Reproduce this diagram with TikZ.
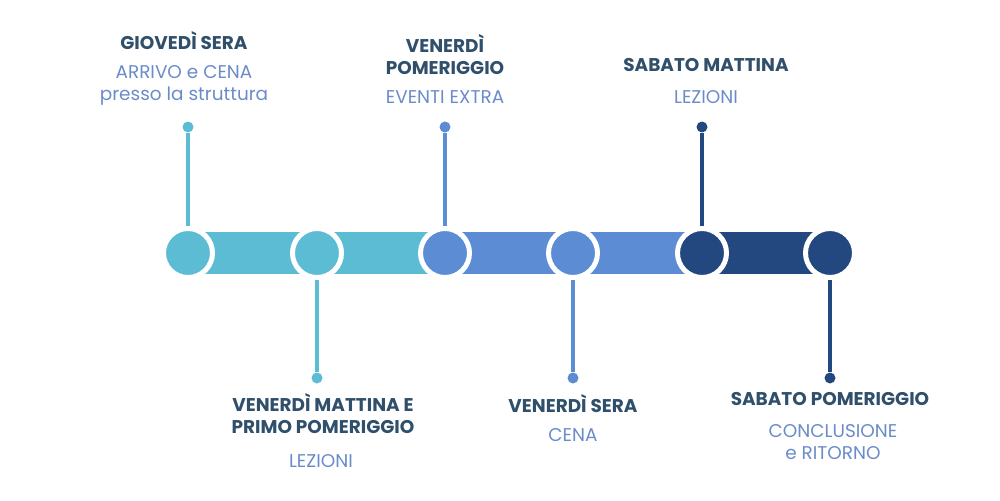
\documentclass[tikz,border=0pt]{standalone}
\usepackage{fontspec}
\setmainfont{Poppins}
\usetikzlibrary{positioning}
\definecolor{cyanstep}{RGB}{91,188,211}
\definecolor{bluestep}{RGB}{91,140,212}
\definecolor{navystep}{RGB}{34,72,127}
\definecolor{titolo}{RGB}{47,79,107}
\definecolor{testo}{RGB}{106,140,200}
\tikzset{
  stop/.style={circle, draw=white, line width=0.1cm, minimum size=0.98cm, inner sep=0pt},
  pin/.style={circle, inner sep=0pt, minimum size=0.22cm},
  title/.style={text=titolo, font=\bfseries\fontsize{10.5}{12.5}\selectfont, align=center},
  sub/.style={text=testo, font=\fontsize{10.5}{12.5}\selectfont, align=center},
}
\begin{document}
\begin{tikzpicture}[x=0.02cm, y=-0.02cm]
    \useasboundingbox (0,0) rectangle (1000,500);

    % bars
    \fill[cyanstep] (188,232) rectangle (445,274);
    \fill[bluestep] (445,232) rectangle (702,274);
    \fill[navystep] (702,232) rectangle (830,274);

    % stems and pins
    \node[pin, fill=cyanstep] (p1) at (188,127) {};
    \node[pin, fill=cyanstep] (p2) at (317,378) {};
    \node[pin, fill=bluestep] (p3) at (445,127) {};
    \node[pin, fill=bluestep] (p4) at (573,378) {};
    \node[pin, fill=navystep] (p5) at (702,127) {};
    \node[pin, fill=navystep] (p6) at (830,378) {};
    \draw[cyanstep, line width=0.08cm] (p1) -- (188,253);
    \draw[cyanstep, line width=0.08cm] (p2) -- (317,253);
    \draw[bluestep, line width=0.08cm] (p3) -- (445,253);
    \draw[bluestep, line width=0.08cm] (p4) -- (573,253);
    \draw[navystep, line width=0.08cm] (p5) -- (702,253);
    \draw[navystep, line width=0.08cm] (p6) -- (830,253);

    % stops
    \node[stop, fill=cyanstep] (s1) at (188,253) {};
    \node[stop, fill=cyanstep] (s2) at (317,253) {};
    \node[stop, fill=bluestep] (s3) at (445,253) {};
    \node[stop, fill=bluestep] (s4) at (573,253) {};
    \node[stop, fill=navystep] (s5) at (702,253) {};
    \node[stop, fill=navystep] (s6) at (830,253) {};

    % labels
    \node[title] (t1) at (184,41) {GIOVEDÌ SERA};
    \node[sub] (d1) at (184,85) {ARRIVO e CENA\\presso la struttura};
    \node[title] (t2) at (323,414) {VENERDÌ MATTINA E\\PRIMO POMERIGGIO};
    \node[sub] (d2) at (321,461) {LEZIONI};
    \node[title] (t3) at (445,55) {VENERDÌ\\POMERIGGIO};
    \node[sub] (d3) at (445,97) {EVENTI EXTRA};
    \node[title] (t4) at (573,404) {VENERDÌ SERA};
    \node[sub] (d4) at (573,435) {CENA};
    \node[title] (t5) at (706,65) {SABATO MATTINA};
    \node[sub] (d5) at (706,97) {LEZIONI};
    \node[title] (t6) at (830,399) {SABATO POMERIGGIO};
    \node[sub] (d6) at (833,442) {CONCLUSIONE\\e RITORNO};
\end{tikzpicture}
\end{document}
